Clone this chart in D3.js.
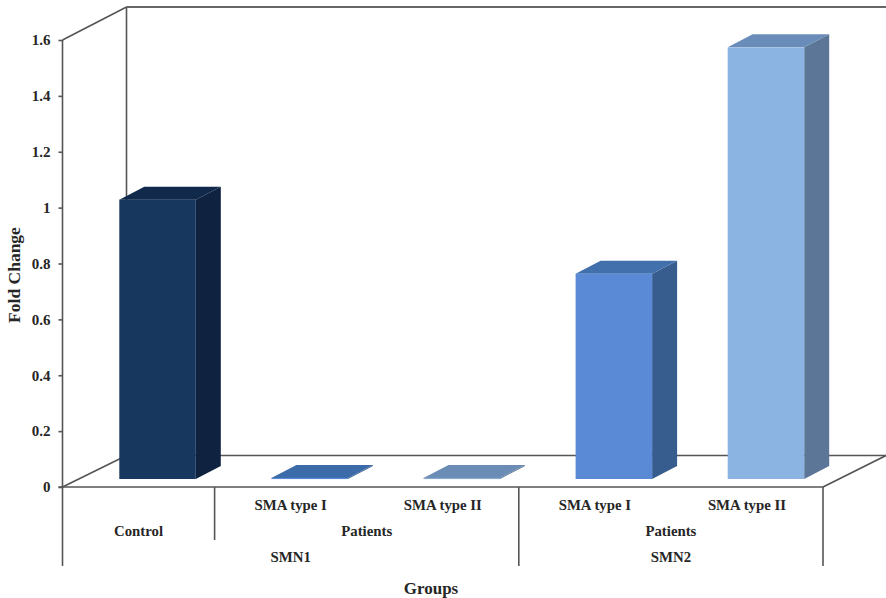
<!DOCTYPE html>
<html>
<head>
<meta charset="utf-8">
<script src="https://cdn.jsdelivr.net/npm/d3@7/dist/d3.min.js"></script>
<style>
  html, body { margin: 0; padding: 0; background: #fff; }
  svg { display: block; }
  text { font-family: "Liberation Serif", serif; font-weight: bold; fill: #262626; }
</style>
</head>
<body>
<svg id="chart" width="886" height="598"></svg>
<script>
// Gene expression fold change by group
const barKeys = ["c", "s1a", "s1b", "s2a", "s2b"];
const barLabels = ["", "SMA type I", "SMA type II", "SMA type I", "SMA type II"];
const foldChange = [1.0, 0.004, 0.004, 0.735, 1.545];
const frontColors = ["#17375e", "#5b8bd8", "#8aa9d0", "#5a8ad6", "#8cb4e3"];
const sideColors = ["#0f2340", "#375d8f", "#54708f", "#375d8f", "#5c7697"];
const topColors = ["#11294a", "#3c6ba9", "#6b8cb4", "#4270ad", "#6a8cb8"];
const yTicks = [0, 0.2, 0.4, 0.6, 0.8, 1, 1.2, 1.4, 1.6];
// Label rows below the floor: first and last band index spanned by each label
const midLabels = [["Control", 0, 0], ["Patients", 1, 2], ["Patients", 3, 4]];
const outerLabels = [["SMN1", 0, 2], ["SMN2", 3, 4]];

const svg = d3.select("#chart");
const plotLeft = 62.5, plotRight = 823, plotBottom = 487, plotTop = 40;
const wallDx = 64, wallDy = 31.5;   // depth of the chart box
const barDx = 25, barDy = 13;       // depth of each bar
const floorInset = 8;               // bars stand slightly behind the front edge

const x = d3.scaleBand().domain(barKeys).range([plotLeft, plotRight]).paddingInner(0).paddingOuter(0);
const y = d3.scaleLinear().domain([0, 1.6]).range([plotBottom, plotTop]);

const lineColor = "#555";
const lineWidth = 1.6;
const wallTop = plotTop - wallDy - 1.5;
const wall = svg.append("g").attr("fill", "none").attr("stroke", lineColor).attr("stroke-width", lineWidth);
const seg = (a, b, c, d) => wall.append("line").attr("x1", a).attr("y1", b).attr("x2", c).attr("y2", d);
seg(plotLeft, plotTop, plotLeft + wallDx, wallTop);              // upper left edge
seg(plotLeft + wallDx, wallTop, 886, wallTop).attr("stroke", "#333"); // top edge
seg(plotLeft + wallDx, wallTop, plotLeft + wallDx, plotBottom - wallDy); // back wall corner
seg(plotLeft, plotBottom, plotLeft + wallDx, plotBottom - wallDy);  // floor left edge
seg(plotLeft + wallDx, plotBottom - wallDy, 886, plotBottom - wallDy); // floor back edge
seg(plotRight, plotBottom, 886, plotBottom - wallDy);            // floor right edge

// Bars: front, side and top faces
const barW = 76.5;
const bars = svg.append("g").selectAll("g").data(barKeys).join("g");
const geom = (k, i) => {
  const x0 = x(k) + x.bandwidth() / 2 - barW / 2 + 19;
  const y0 = y(0) - floorInset;
  const y1 = y0 - (y(0) - y(foldChange[i]));
  return { x0, x1: x0 + barW, y0, y1 };
};
const pts = a => a.map(p => p.join(",")).join(" ");
bars.append("polygon").attr("fill", (k, i) => sideColors[i]).attr("points", (k, i) => {
  const g = geom(k, i);
  return pts([[g.x1, g.y0], [g.x1 + barDx, g.y0 - barDy], [g.x1 + barDx, g.y1 - barDy], [g.x1, g.y1]]);
});
bars.append("polygon").attr("fill", (k, i) => topColors[i]).attr("points", (k, i) => {
  const g = geom(k, i);
  return pts([[g.x0, g.y1], [g.x1, g.y1], [g.x1 + barDx, g.y1 - barDy], [g.x0 + barDx, g.y1 - barDy]]);
});
bars.append("rect").attr("fill", (k, i) => frontColors[i])
  .attr("x", (k, i) => geom(k, i).x0)
  .attr("y", (k, i) => geom(k, i).y1)
  .attr("width", barW)
  .attr("height", (k, i) => Math.max(1.2, geom(k, i).y0 - geom(k, i).y1));

// Value axis
const axis = d3.axisLeft(y).tickValues(yTicks).tickSize(4).tickPadding(8).tickFormat(d3.format("~g"));
const axisG = svg.append("g").attr("transform", `translate(${plotLeft},0)`).call(axis);
axisG.selectAll("path, line").attr("stroke", lineColor).attr("stroke-width", lineWidth);
axisG.select(".domain").attr("d", `M0,${plotTop}V${plotBottom}`);
axisG.selectAll("text").style("font-family", '"Liberation Serif", serif')
  .style("font-size", "15px").style("font-weight", "bold").attr("fill", "#262626");

// Front floor edge and group separators
const grid = svg.append("g").attr("stroke", lineColor).attr("stroke-width", lineWidth);
grid.append("line").attr("x1", plotLeft - 4).attr("x2", plotRight).attr("y1", plotBottom).attr("y2", plotBottom);
const edge = i => x(barKeys[i]);
const seps = [[plotLeft, 566], [edge(1), 540], [edge(3), 566], [plotRight, 566]];
grid.selectAll("line.sep").data(seps).join("line").attr("class", "sep")
  .attr("x1", d => d[0]).attr("x2", d => d[0]).attr("y1", plotBottom).attr("y2", d => d[1]);

// Multi-level category labels
const label = (tx, ty, s) => svg.append("text").attr("x", tx).attr("y", ty)
  .attr("text-anchor", "middle").attr("font-size", 14.8).text(s);
const spanMid = (a, b) => (x(barKeys[a]) + x(barKeys[b]) + x.bandwidth()) / 2;
barLabels.forEach((s, i) => { if (s) label(spanMid(i, i), 510, s); });
midLabels.forEach(d => label(spanMid(d[1], d[2]), 536, d[0]));
outerLabels.forEach(d => label(spanMid(d[1], d[2]), 562, d[0]));

// Axis titles
svg.append("text").attr("x", 431).attr("y", 594).attr("text-anchor", "middle")
  .attr("font-size", 17).text("Groups");
svg.append("text").attr("transform", "translate(20,275) rotate(-90)").attr("text-anchor", "middle")
  .attr("font-size", 17.5).text("Fold Change");
</script>
</body>
</html>
